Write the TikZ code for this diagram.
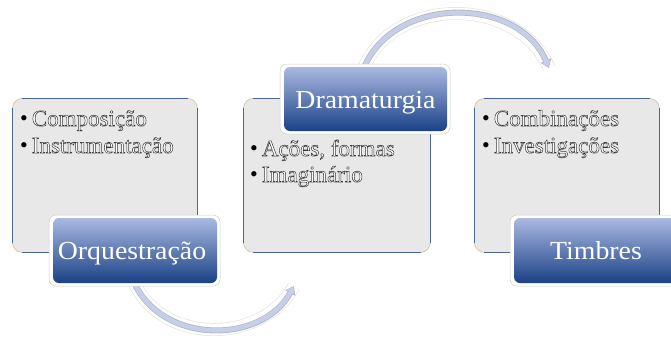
\documentclass[tikz,border=0pt]{standalone}
\usepackage{fontspec}
\setmainfont{Liberation Serif}
\newfontfamily\tabfont[FakeStretch=1.07]{Liberation Serif}
\usetikzlibrary{arrows.meta}

\definecolor{panelfill}{HTML}{E8E8E8}
\definecolor{paneledge}{HTML}{4A6794}
\definecolor{panelcorner}{HTML}{D6C6AE}
\definecolor{tabtop}{HTML}{A9B9E1}
\definecolor{tabbot}{HTML}{1B4186}
\definecolor{arrowbody}{HTML}{C6CEE8}
\definecolor{arrowedge}{HTML}{B4B8C2}

% white lettering with a thin dark rim (fill + stroke text render mode)
\newcommand\rimtext[1]{{\color{white}%
  \special{pdf:literal direct 2 Tr 0.5 w 0.22 0.22 0.22 RG}#1%
  \special{pdf:literal direct 0 Tr}}}
\newcommand\bitem[1]{\raisebox{0.6pt}{\color{black}\fontsize{22}{24}\selectfont\textbullet}\hspace{4pt}\rimtext{#1}}

\tikzset{
  panel/.style={draw=panelcorner, line width=0.8pt, fill=panelfill,
    rounded corners=10pt, anchor=north west, minimum height=154pt},
  panelline/.style={draw=paneledge, line width=1pt},
  tabglow/.style={draw=black!20, line width=0.5pt, fill=white,
    rounded corners=7pt},
  tab/.style={rounded corners=6pt, top color=tabtop, bottom color=tabbot,
    draw=none},
  tablabel/.style={anchor=base, text=white, inner sep=0pt,
    font=\tabfont\fontsize{26}{30}\selectfont},
  itemline/.style={anchor=base west, inner sep=0pt,
    font=\fontsize{23}{27}\selectfont},
  arrowhalo/.style={line width=13pt, draw=black!10},
  arrowclear/.style={line width=11.5pt, draw=white},
  arrowrim/.style={line width=6pt, draw=arrowedge,
    -{Triangle[length=8pt,width=11pt]}},
  arrowcore/.style={line width=4.4pt, draw=arrowbody,
    -{Triangle[length=6pt,width=8.5pt]}, shorten >=1.2pt},
}

\begin{document}
\begin{tikzpicture}[x=1pt,y=-1pt]
\useasboundingbox (0,0) rectangle (671,338);

% grey content panels
\node[panel, minimum width=185pt] (p1) at (12,98) {};
\node[panel, minimum width=187pt] (p2) at (243,98) {};
\node[panel, minimum width=185pt] (p3) at (474,98) {};
\foreach \p in {p1,p2,p3}{
  \draw[panelline] ([xshift=10pt]\p.north west) -- ([xshift=-10pt]\p.north east);
  \draw[panelline] ([xshift=10pt]\p.south west) -- ([xshift=-10pt]\p.south east);
  \draw[panelline] ([yshift=-10pt]\p.north west) -- ([yshift=10pt]\p.south west);
  \draw[panelline] ([yshift=-10pt]\p.north east) -- ([yshift=10pt]\p.south east);
}

% curved connectors (drawn before the tabs that hide their start)
\coordinate (s1) at (133,280);
\coordinate (e1) at (294,286);
\coordinate (s2) at (363,70);
\coordinate (e2) at (549,68);
\foreach \sty in {arrowhalo,arrowclear}{
  \draw[\sty] (s1) .. controls (160,345) and (262,345) .. (e1);
  \draw[\sty] (s2) .. controls (392,-5) and (518,-5) .. (e2);
}
\draw[arrowrim] (s1) .. controls (160,345) and (262,345) .. (e1);
\draw[arrowcore] (s1) .. controls (160,345) and (262,345) .. (e1);
\draw[arrowrim] (s2) .. controls (392,-5) and (518,-5) .. (e2);
\draw[arrowcore] (s2) .. controls (392,-5) and (518,-5) .. (e2);

% bullet lists
\node[itemline] (l1a) at (20,126) {\bitem{Composição}};
\node[itemline] (l1b) at (20,153) {\bitem{Instrumentação}};
\node[itemline] (l2a) at (250,156) {\bitem{Ações, formas}};
\node[itemline] (l2b) at (250,182) {\bitem{Imaginário}};
\node[itemline] (l3a) at (482,126) {\bitem{Combinações}};
\node[itemline] (l3b) at (482,153) {\bitem{Investigações}};

% title tabs
\draw[tabglow] (49,215) rectangle (220,286);
\shade[tab] (53,218) rectangle (217,283);
\node[tablabel] (t1) at (132,259) {Orquestração};

\draw[tabglow] (280,64) rectangle (450,134);
\shade[tab] (284,67) rectangle (447,131);
\node[tablabel] (t2) at (365.5,108) {Dramaturgia};

\draw[tabglow] (510,215) rectangle (681,286);
\shade[tab] (514,218) rectangle (678,283);
\node[tablabel] (t3) at (596,259) {Timbres};
\end{tikzpicture}
\end{document}
